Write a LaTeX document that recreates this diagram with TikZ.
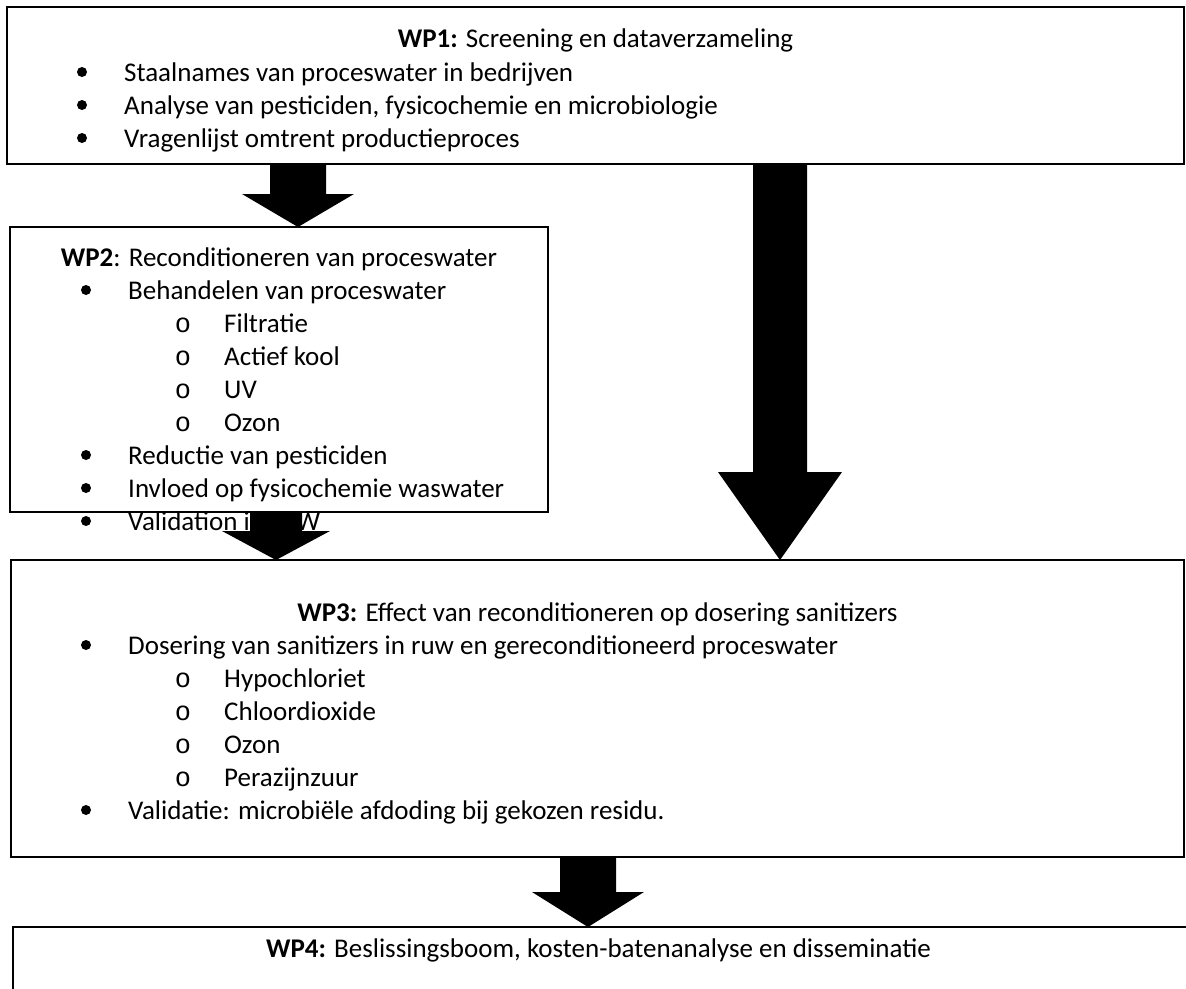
\documentclass[tikz,border=0pt]{standalone}
\usepackage{fontspec}
\setmainfont{Carlito}
\newfontfamily\subbulletfont{Liberation Mono}
\usetikzlibrary{calc}
\newcommand\blockarrow[5]{%
  \fill[black] let \p1=(#1), \p2=(#2) in
    (\x1-#3pt,\y1) -- (\x1+#3pt,\y1) -- (\x1+#3pt,\y2+#5pt) -- (\x1+#4pt,\y2+#5pt)
    -- (\x2,\y2) -- (\x1-#4pt,\y2+#5pt) -- (\x1-#3pt,\y2+#5pt) -- cycle;}
\begin{document}
\begin{tikzpicture}[x=1pt,y=-1pt,
  box/.style={draw, line width=2pt, inner sep=0pt, outer sep=0pt, anchor=north west},
  txt/.style={anchor=base west, inner sep=0pt, font=\fontsize{27}{33}\selectfont},
  ttl/.style={anchor=base, inner sep=0pt, font=\fontsize{27}{33}\selectfont},
  sub/.style={anchor=base, inner sep=0pt, font=\subbulletfont\fontsize{27}{33}\selectfont},
  blt/.style={circle, fill=black, inner sep=0pt, minimum size=10pt}]
\useasboundingbox (0,0) rectangle (1186,988);
\fill[white] (0,0) rectangle (1186,988);

% ---------- WP1 ----------
\node[box, minimum width=1177pt, minimum height=157pt] (wp1) at (7,7) {};
\node[ttl] (t1) at (595.5,47) {\textbf{WP1:} Screening en dataverzameling};
\node[blt] (b11) at (82,72) {};
\node[txt] (l11) at (124,81) {Staalnames van proceswater in bedrijven};
\node[blt] (b12) at (82,105) {};
\node[txt] (l12) at (124,114) {Analyse van pesticiden, fysicochemie en microbiologie};
\node[blt] (b13) at (82,138) {};
\node[txt] (l13) at (124,147) {Vragenlijst omtrent productieproces};

% ---------- WP2 ----------
\node[txt] (l28) at (128,530) {Validation in\kern18pt PW};
\node[box, minimum width=538pt, minimum height=285pt] (wp2) at (10,227) {};
\node[ttl] (t2) at (279,266) {\textbf{WP2}: Reconditioneren van proceswater};
\node[blt] (b21) at (86,290) {};
\node[txt] (l21) at (128,299) {Behandelen van proceswater};
\node[sub] (o21) at (183,332) {o};
\node[txt] (l22) at (224,332) {Filtratie};
\node[sub] (o22) at (183,365) {o};
\node[txt] (l23) at (224,365) {Actief kool};
\node[sub] (o23) at (183,398) {o};
\node[txt] (l24) at (224,398) {UV};
\node[sub] (o24) at (183,431) {o};
\node[txt] (l25) at (224,431) {Ozon};
\node[blt] (b22) at (86,455) {};
\node[txt] (l26) at (128,464) {Reductie van pesticiden};
\node[blt] (b23) at (86,488) {};
\node[txt] (l27) at (128,497) {Invloed op fysicochemie waswater};
\node[blt] (b24) at (86,521) {};

% ---------- WP3 ----------
\node[box, minimum width=1173pt, minimum height=297pt] (wp3) at (11,560) {};
\node[ttl] (t3) at (597.5,621) {\textbf{WP3:} Effect van reconditioneren op dosering sanitizers};
\node[blt] (b31) at (86,645) {};
\node[txt] (l31) at (128,654) {Dosering van sanitizers in ruw en gereconditioneerd proceswater};
\node[sub] (o31) at (183,687) {o};
\node[txt] (l32) at (224,687) {Hypochloriet};
\node[sub] (o32) at (183,720) {o};
\node[txt] (l33) at (224,720) {Chloordioxide};
\node[sub] (o33) at (183,753) {o};
\node[txt] (l34) at (224,753) {Ozon};
\node[sub] (o34) at (183,786) {o};
\node[txt] (l35) at (224,786) {Perazijnzuur};
\node[blt] (b32) at (86,810) {};
\node[txt] (l36) at (128,819) {Validatie: microbiële afdoding bij gekozen residu.};

% ---------- WP4 ----------
\node[box, minimum width=1175pt, minimum height=100pt] (wp4) at (13,927) {};
\node[ttl] (t4) at (598.5,957) {\textbf{WP4:} Beslissingsboom, kosten-batenanalyse en disseminatie};

% ---------- block arrows ----------
\coordinate (a1s) at ($(wp1.south west)+(291,0)$);
\coordinate (a1t) at ($(wp2.north west)+(288,0)$);
\blockarrow{a1s}{a1t}{28}{56}{33}
\coordinate (a2s) at ($(wp2.south west)+(266,0)$);
\coordinate (a2t) at ($(wp3.north west)+(265,0)$);
\blockarrow{a2s}{a2t}{26}{54}{29}
\coordinate (a3s) at ($(wp1.south west)+(773,0)$);
\coordinate (a3t) at ($(wp3.north west)+(769,0)$);
\blockarrow{a3s}{a3t}{27}{62}{88}
\coordinate (a4s) at ($(wp3.south west)+(577,0)$);
\coordinate (a4t) at ($(wp4.north west)+(575,0)$);
\blockarrow{a4s}{a4t}{28}{56}{35}
\end{tikzpicture}
\end{document}
